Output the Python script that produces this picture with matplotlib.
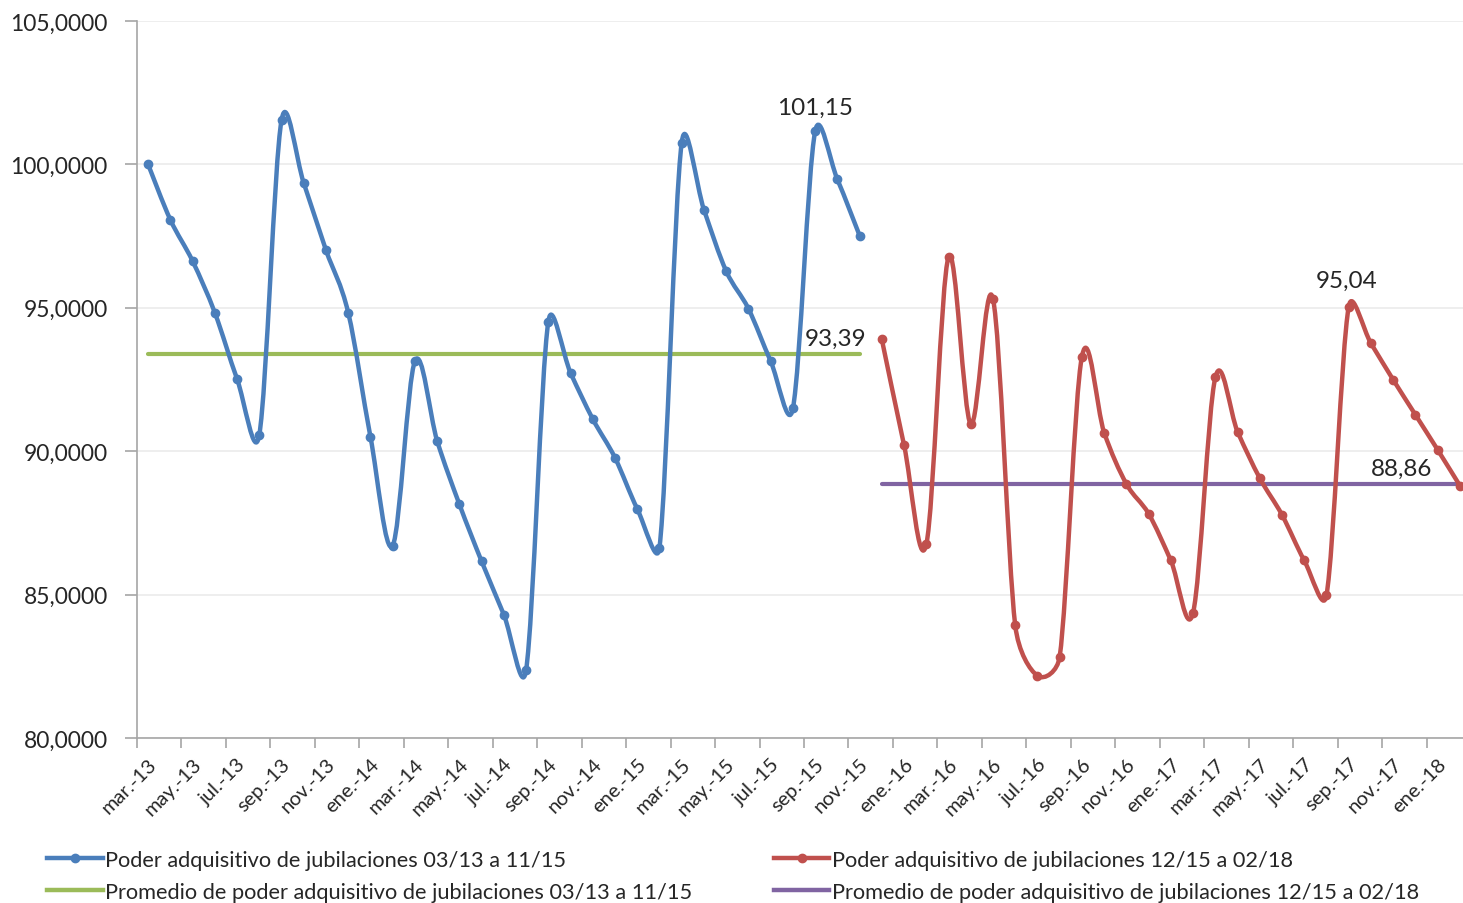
import numpy as np
import matplotlib
matplotlib.use("Agg")
import matplotlib.pyplot as plt
from matplotlib.path import Path
from matplotlib.patches import PathPatch
from matplotlib.lines import Line2D

plt.rcParams['font.family'] = ['Lato', 'DejaVu Sans']

# meses mar-13 .. feb-18
abrev = ['ene.', 'feb.', 'mar.', 'abr.', 'may.', 'jun.', 'jul.', 'ago.', 'sep.', 'oct.', 'nov.', 'dic.']
meses = []
for anio in range(13, 19):
    for m in abrev:
        meses.append(m + '-' + str(anio))
meses = meses[2:2 + 60]

# poder adquisitivo 03/13 a 11/15
poder_1 = [100.00, 98.07, 96.63, 94.83, 92.52, 90.57, 101.54, 99.35, 97.01, 94.83,
           90.50, 86.71, 93.14, 90.36, 88.15, 86.16, 84.30, 82.37, 94.52, 92.73,
           91.12, 89.77, 87.99, 86.64, 100.76, 98.42, 96.28, 94.97, 93.14, 91.49,
           101.15, 99.48, 97.52]
# poder adquisitivo 12/15 a 02/18
poder_2 = [93.90, 90.21, 86.75, 96.77, 90.94, 95.31, 83.93, 82.17, 82.83, 93.30,
           90.65, 88.86, 87.82, 86.19, 84.37, 92.57, 90.68, 89.06, 87.78, 86.19,
           84.98, 95.04, 93.76, 92.49, 91.27, 90.05, 88.80]
promedio_1 = 93.39
promedio_2 = 88.86

etiquetas_y = ['80,0000', '85,0000', '90,0000', '95,0000', '100,0000', '105,0000']
valores_y = [80, 85, 90, 95, 100, 105]

azul = '#4A7EBB'
rojo = '#C0504D'
verde = '#9BBB59'
violeta = '#8064A2'
gris = '#A6A6A6'
texto = '#262626'


def curva_suave(ax, x, y):
    # bezier al estilo Excel: tangente 1/6, limitada a medio segmento (en pantalla)
    pts = ax.transData.transform(np.column_stack([x, y]).astype(float))
    n = len(pts)
    verts = [pts[0]]
    codes = [Path.MOVETO]
    for i in range(n - 1):
        p0 = pts[i - 1] if i > 0 else pts[i]
        p1 = pts[i]
        p2 = pts[i + 1]
        p3 = pts[i + 2] if i + 2 < n else pts[i + 1]
        d02 = np.hypot(*(p2 - p0))
        d12 = np.hypot(*(p2 - p1))
        d13 = np.hypot(*(p3 - p1))
        f1 = 1 / 6 if d02 / 6 < d12 / 2 else d12 / (2 * d02)
        f2 = 1 / 6 if d13 / 6 < d12 / 2 else d12 / (2 * d13)
        c1 = p1 + (p2 - p0) * f1
        c2 = p2 - (p3 - p1) * f2
        verts += [c1, c2, p2]
        codes += [Path.CURVE4] * 3
    verts = ax.transData.inverted().transform(np.array(verts))
    return Path(verts, codes)


fig = plt.figure(figsize=(14.63, 9.04), dpi=100)
ax = fig.add_axes([137 / 1463, 165 / 904, 1334 / 1463, 717 / 904])
ax.set_xlim(-0.5, 59.5)
ax.set_ylim(80, 105)

x1 = np.arange(len(poder_1))
x2 = np.arange(len(poder_1), len(poder_1) + len(poder_2))

ax.plot(x1, np.full(len(x1), promedio_1), color=verde, lw=3, solid_capstyle='round', zorder=3)
ax.plot(x2, np.full(len(x2), promedio_2), color=violeta, lw=3, solid_capstyle='round', zorder=3)

for xs, ys, c in [(x1, poder_1, azul), (x2, poder_2, rojo)]:
    ax.add_patch(PathPatch(curva_suave(ax, xs, ys), facecolor='none', edgecolor=c,
                           lw=3.2, capstyle='round', joinstyle='round', zorder=4))
    ax.plot(xs, ys, 'o', color=c, ms=6, zorder=5)

# etiquetas
ax.annotate('101,15', (x1[30], poder_1[30]), xytext=(0, 14), textcoords='offset pixels',
            ha='center', va='bottom', fontsize=17.5, color=texto)
ax.annotate('93,39', (x1[-1], promedio_1), xytext=(-24, 5), textcoords='offset pixels',
            ha='center', va='bottom', fontsize=17.5, color=texto)
ax.annotate('95,04', (x2[21], poder_2[21]), xytext=(-2, 16), textcoords='offset pixels',
            ha='center', va='bottom', fontsize=17.5, color=texto)
ax.annotate('88,86', (x2[-1], promedio_2), xytext=(-58, 5), textcoords='offset pixels',
            ha='center', va='bottom', fontsize=17.5, color=texto)

ax.set_yticks(valores_y)
ax.set_yticklabels(etiquetas_y, fontsize=16.5, color=texto)
ax.grid(axis='y', color='#EBEBEB', lw=1.2, zorder=0)

ax.set_xticks(np.arange(0, 60, 2))
ax.set_xticklabels(meses[::2], rotation=45, ha='right', rotation_mode='anchor',
                   fontsize=14.5, color=texto)
ax.set_xticks(np.arange(-0.5, 60, 2), minor=True)
ax.tick_params(axis='x', which='major', length=0, pad=12)
ax.tick_params(axis='x', which='minor', length=7, color=gris, width=1.2)
ax.tick_params(axis='y', length=9, color=gris, width=1.2, pad=12)

for s in ['top', 'right']:
    ax.spines[s].set_visible(False)
for s in ['left', 'bottom']:
    ax.spines[s].set_color(gris)
    ax.spines[s].set_linewidth(1.2)

handles = [
    Line2D([], [], color=azul, lw=3.2, marker='o', ms=6),
    Line2D([], [], color=verde, lw=3.2),
    Line2D([], [], color=rojo, lw=3.2, marker='o', ms=6),
    Line2D([], [], color=violeta, lw=3.2),
]
labels = [
    'Poder adquisitivo de jubilaciones 03/13 a 11/15',
    'Promedio de poder adquisitivo de jubilaciones 03/13 a 11/15',
    'Poder adquisitivo de jubilaciones 12/15 a 02/18',
    'Promedio de poder adquisitivo de jubilaciones 12/15 a 02/18',
]
fig.legend(handles, labels, ncol=2, loc='upper left', bbox_to_anchor=(47 / 1463, 1 - 851 / 904),
           frameon=False, fontsize=15.7, handlelength=2.55, handletextpad=0.1,
           columnspacing=3.75, labelspacing=0.55, borderpad=0, borderaxespad=0,
           labelcolor=texto)

fig.savefig('out.png', dpi=100)
